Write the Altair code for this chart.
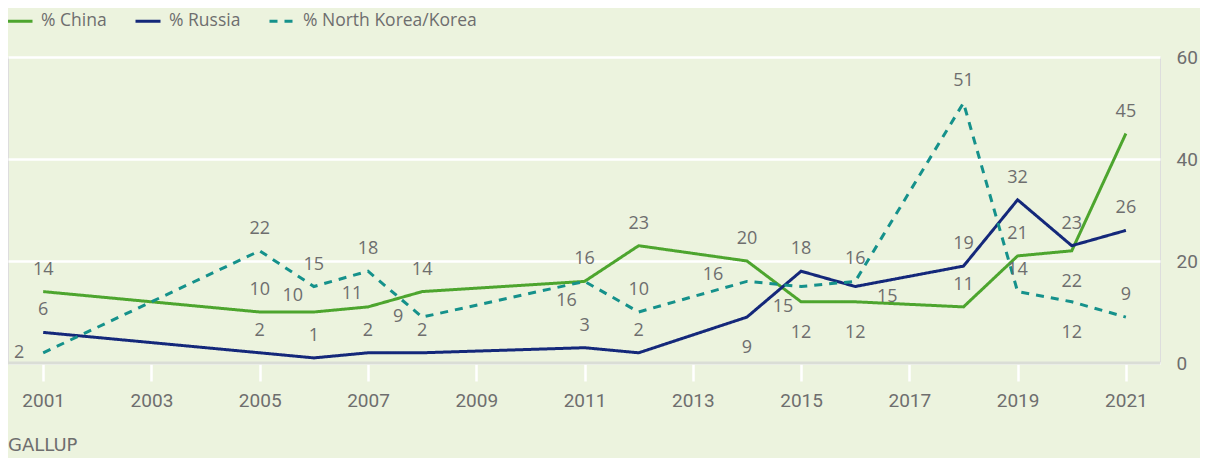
import altair as alt
import pandas as pd

# ---- data ----
YEARS = [2001, 2005, 2006, 2007, 2008, 2011, 2012, 2014, 2015, 2016, 2018, 2019, 2020, 2021]
CHINA = [14, 10, 10, 11, 14, 16, 23, 20, 12, 12, 11, 21, 22, 45]
RUSSIA = [6, 2, 1, 2, 2, 3, 2, 9, 18, 15, 19, 32, 23, 26]
NKOREA = [2, 22, 15, 18, 9, 16, 10, 16, 15, 16, 51, 14, 12, 9]
SERIES = ["% China", "% Russia", "% North Korea/Korea"]
# label placement keyword for each point (style, mapped to pixel offsets below)
CHINA_LBL = ["above", "above", "upleft", "upleft2", "above", "above", "above", "above",
             "below", "below", "above", "above", "below", "above"]
RUSSIA_LBL = ["above", "above", "above", "above", "above", "above", "above", "below",
              "above", "right", "above", "above", "above", "above"]
NKOREA_LBL = ["left", "above", "above", "above", "left", "downleft", "above", "farleft",
              "downleft", "above", "above", "above", "below", "above"]
X_TICKS = list(range(2001, 2022, 2))
Y_TICKS = [0, 20, 40, 60]

OFFSETS = {
    "above": (0, -22), "below": (0, 31), "left": (-24, 0), "upleft": (-21, -16),
    "upleft2": (-16, -13), "downleft": (-18, 20), "farleft": (-34, -6), "right": (32, 10),
}

rows = []
for name, vals, lbls in [(SERIES[0], CHINA, CHINA_LBL), (SERIES[1], RUSSIA, RUSSIA_LBL),
                         (SERIES[2], NKOREA, NKOREA_LBL)]:
    for y, v, l in zip(YEARS, vals, lbls):
        rows.append({"year": y, "value": v, "series": name, "pos": l})
df = pd.DataFrame(rows)

COLORS = ["#4DA52E", "#14287A", "#15918B"]
BG = "#ECF3DE"
GRAY = "#6E6E6E"
LBL_FONT = "Open Sans"
AX_FONT = "Roboto"

xscale = alt.Scale(domain=[2000.35, 2021.63], nice=False, zero=False)
yscale = alt.Scale(domain=[0, 60], nice=False)

y_axis = alt.Axis(
    orient="right", values=Y_TICKS, title=None, ticks=False, domain=False,
    grid=True, gridColor="white", gridWidth=2.5, labelPadding=16,
    labelFont=AX_FONT, labelFontSize=19, labelColor=GRAY)

x_enc = alt.X("year:Q", scale=xscale, axis=alt.Axis(
    values=X_TICKS, format="d", title=None, grid=False, domain=False,
    ticks=True, tickColor="white", tickWidth=2.5, tickSize=18, labelPadding=10,
    labelFont=AX_FONT, labelFontSize=19, labelColor=GRAY))
y_enc = alt.Y("value:Q", scale=yscale, axis=y_axis)

base = alt.Chart(df)

baseline = alt.Chart(pd.DataFrame({"value": [0]})).mark_rule(
    color="#DADDD6", strokeWidth=3).encode(y=y_enc)

lines = base.mark_line(strokeWidth=3).encode(
    x=x_enc, y=y_enc,
    color=alt.Color("series:N", scale=alt.Scale(domain=SERIES, range=COLORS),
                    legend=alt.Legend(title=None, orient="none", legendX=-2, legendY=-50,
                                      direction="horizontal", symbolType="stroke",
                                      symbolSize=625, symbolStrokeWidth=3,
                                      labelFont=LBL_FONT, labelFontSize=17.5,
                                      labelColor=GRAY, labelOffset=7, labelLimit=400,
                                      columnPadding=22)),
    strokeDash=alt.StrokeDash("series:N", scale=alt.Scale(
        domain=SERIES, range=[[1, 0], [1, 0], [8, 7]]), legend=alt.Legend(title=None)),
    detail="series:N",
)

label_layers = []
for key, (dx, dy) in OFFSETS.items():
    label_layers.append(
        base.transform_filter(alt.datum.pos == key).mark_text(
            dx=dx, dy=dy, font=LBL_FONT, fontSize=18, color=GRAY, baseline="middle"
        ).encode(x=alt.X("year:Q", scale=xscale), y=alt.Y("value:Q", scale=yscale),
                 text="value:Q")
    )

source = alt.Chart(pd.DataFrame({"t": ["GALLUP"]})).mark_text(
    align="left", baseline="middle", font="DejaVu Sans", fontSize=18, color=GRAY
).encode(x=alt.value(0), y=alt.value(389), text="t:N")

chart = alt.layer(baseline, lines, *label_layers, source).properties(
    width=1152, height=306,
    padding={"left": 0, "top": 49, "right": 40, "bottom": 95},
    autosize=alt.AutoSizeParams(type="none"),
    background=BG,
).configure_view(strokeWidth=0).configure(
    font=LBL_FONT
)

chart.save("out.html", embed_options={"renderer": "svg", "actions": False})
